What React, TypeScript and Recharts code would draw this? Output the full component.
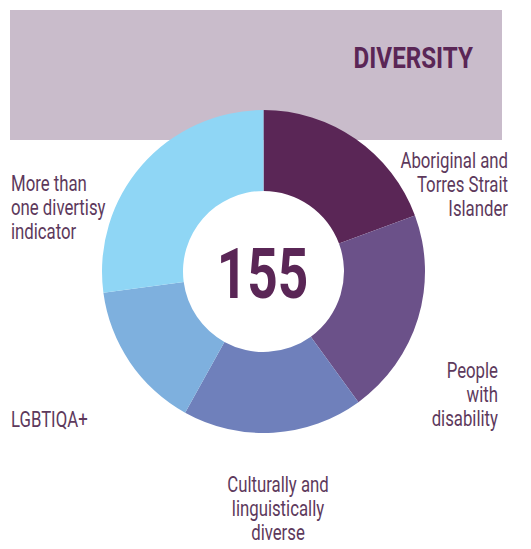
import { PieChart, Pie, Cell, Customized } from 'recharts';

const categories = [
  'Aboriginal and Torres Strait Islander',
  'People with disability',
  'Culturally and linguistically diverse',
  'LGBTIQA+',
  'More than one divertisy indicator',
];
const counts = [30, 32, 28, 23, 42];
const sliceColors = ['#5a2656', '#6b5189', '#6f80bb', '#7eb0de', '#8fd6f5'];
const labelLines = [
  ['Aboriginal and', 'Torres Strait', 'Islander'],
  ['People', 'with', 'disability'],
  ['Culturally and', 'linguistically', 'diverse'],
  ['LGBTIQA+'],
  ['More than', 'one divertisy', 'indicator'],
];
const total = counts.reduce((a, b) => a + b, 0);

// label placement (page px), separate from the data
const labelLayout = [
  { x: 508, y: 168, anchor: 'end' },
  { x: 498, y: 378, anchor: 'end' },
  { x: 278, y: 492, anchor: 'middle' },
  { x: 11, y: 427, anchor: 'start' },
  { x: 11, y: 191, anchor: 'start' },
];

const data = categories.map((name, i) => ({ name, value: counts[i] }));

const font = 'Roboto, "Noto Sans", sans-serif';
const labelColor = '#5d395c';

function Overlay() {
  return (
    <g>
      <text
        transform="translate(262.5, 298) scale(0.76, 1)"
        textAnchor="middle"
        fontFamily={font}
        fontWeight={700}
        fontSize={70}
        fill="#5a2656"
      >
        {total}
      </text>
      {labelLines.map((lines, i) => (
        <g key={categories[i]}>
          {lines.map((line, j) => (
            <text
              key={line}
              transform={`translate(${labelLayout[i].x}, ${labelLayout[i].y + j * 24}) scale(0.78, 1)`}
              textAnchor={labelLayout[i].anchor as 'start' | 'middle' | 'end'}
              fontFamily={font}
              fontSize={21.5}
              fill={labelColor}
            >
              {line}
            </text>
          ))}
        </g>
      ))}
    </g>
  );
}

export default function App() {
  return (
    <div style={{ position: 'absolute', left: 0, top: 0, width: 531, height: 549, background: '#fff' }}>
      <div
        style={{
          position: 'absolute',
          left: 10,
          top: 10,
          width: 492,
          height: 130,
          background: '#c9bccb',
        }}
      />
      <svg style={{ position: 'absolute', left: 0, top: 0 }} width={531} height={549}>
        <text
          transform="translate(473, 68) scale(0.82, 1)"
          textAnchor="end"
          fontFamily={font}
          fontWeight={700}
          fontSize={29.5}
          fill="#5a2656"
        >
          DIVERSITY
        </text>
      </svg>
      <div style={{ position: 'absolute', left: 0, top: 0 }}>
        <PieChart width={531} height={549} margin={{ top: 0, right: 0, bottom: 0, left: 0 }}>
          <Pie
            data={data}
            dataKey="value"
            nameKey="name"
            cx={263.5}
            cy={271.5}
            innerRadius={80.5}
            outerRadius={161.5}
            startAngle={90}
            endAngle={-270}
            stroke="none"
            isAnimationActive={false}
          >
            {data.map((d, i) => (
              <Cell key={d.name} fill={sliceColors[i]} />
            ))}
          </Pie>
          <Customized component={Overlay} />
        </PieChart>
      </div>
    </div>
  );
}
